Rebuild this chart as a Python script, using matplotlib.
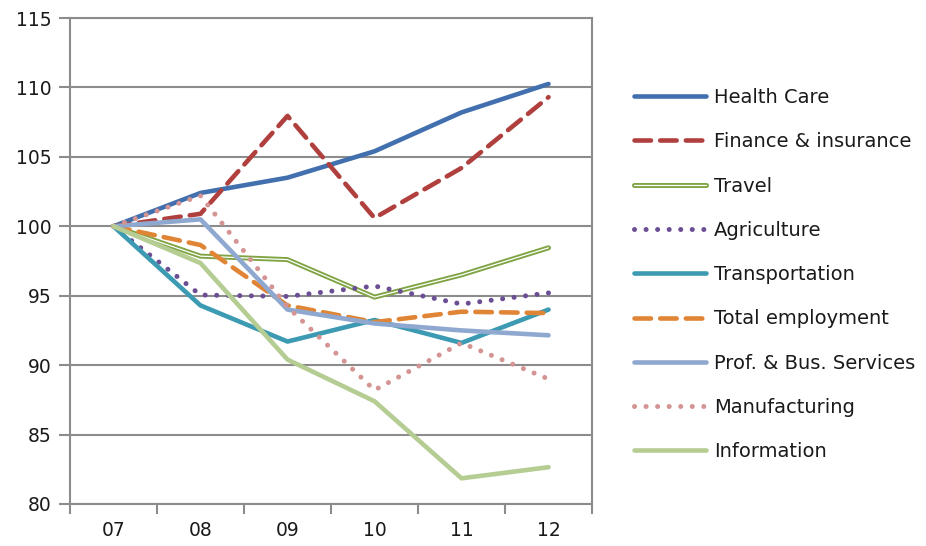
import matplotlib
matplotlib.use("Agg")
import matplotlib.pyplot as plt
import numpy as np
from matplotlib.legend_handler import HandlerTuple

years = ["07", "08", "09", "10", "11", "12"]
health_care = [100, 102.4, 103.5, 105.4, 108.2, 110.25]
finance = [100, 100.9, 107.95, 100.6, 104.2, 109.3]
travel = [100, 97.85, 97.6, 94.9, 96.5, 98.45]
agriculture = [100, 95.05, 94.95, 95.7, 94.4, 95.2]
transportation = [100, 94.3, 91.7, 93.25, 91.6, 94.0]
total_employment = [100, 98.65, 94.3, 93.1, 93.85, 93.75]
prof_bus = [100, 100.5, 94.0, 93.0, 92.5, 92.15]
manufacturing = [100, 102.2, 94.2, 88.2, 91.6, 89.0]
information = [100, 97.35, 90.4, 87.4, 81.85, 82.65]

y_ticks = [80, 85, 90, 95, 100, 105, 110, 115]

plt.rcParams['font.family'] = ['DejaVu Sans']

fig = plt.figure(figsize=(9.26, 5.46), dpi=100)
ax = fig.add_axes([70/926, 1-504/546, (592-70)/926, (504-18)/546])

x = np.arange(len(years))
grid_c = '#8c8c8c'
lw = 3.3

def dashed(y, color):
    l, = ax.plot(x, y, color=color, lw=lw, dash_capstyle='round',
                 dash_joinstyle='round')
    l.set_dashes((3.6, 2.0))
    return l

def dotted(y, color):
    l, = ax.plot(x, y, color=color, lw=3.6, dash_capstyle='round')
    l.set_dashes((0.01, 2.3))
    return l

def solid(y, color, w=lw):
    l, = ax.plot(x, y, color=color, lw=w, solid_capstyle='round',
                 solid_joinstyle='round')
    return l

h1 = solid(health_care, '#4270AE')
h2 = dashed(finance, '#B0403E')
h3a = solid(travel, '#7FA443', 3.6)
h3b = solid(travel, 'white', 0.9)
h4 = dotted(agriculture, '#6B4E94')
h5 = solid(transportation, '#3C9AB2')
h6 = dashed(total_employment, '#E08535')
h7 = solid(prof_bus, '#8FA8D0')
h8 = dotted(manufacturing, '#D49493')
h9 = solid(information, '#B5CC92')

ax.set_xlim(-0.5, 5.5)
ax.set_ylim(80, 115)
ax.set_yticks(y_ticks)
ax.set_yticklabels([str(v) for v in y_ticks])
ax.set_xticks(x)
ax.set_xticklabels(years)
ax.set_xticks(np.arange(-0.5, 6.0, 1.0), minor=True)
ax.tick_params(axis='x', which='major', length=0, pad=12, labelsize=13.5, colors='#1a1a1a')
ax.tick_params(axis='x', which='minor', length=7, width=1.5, color=grid_c, direction='out')
ax.tick_params(axis='y', which='major', length=8, width=1.5, color=grid_c, pad=5,
               labelsize=13.5, labelcolor='#1a1a1a')
ax.yaxis.grid(True, color=grid_c, lw=1.5)
ax.set_axisbelow(True)
for s in ax.spines.values():
    s.set_color(grid_c)
    s.set_linewidth(1.5)

leg_handles = [h1, h2, (h3a, h3b), h4, h5, h6, h7, h8, h9]
leg_labels = ["Health Care", "Finance & insurance", "Travel", "Agriculture",
              "Transportation", "Total employment", "Prof. & Bus. Services",
              "Manufacturing", "Information"]
leg = fig.legend(leg_handles, leg_labels, loc='upper left',
                 bbox_to_anchor=(634/926, 1-88/546), frameon=False,
                 fontsize=14, handlelength=3.7, handletextpad=0.4,
                 labelspacing=1.3, borderaxespad=0, borderpad=0,
                 handler_map={tuple: HandlerTuple(ndivide=1)})
for t in leg.get_texts():
    t.set_color('#1a1a1a')

fig.savefig('out.png', dpi=100)
